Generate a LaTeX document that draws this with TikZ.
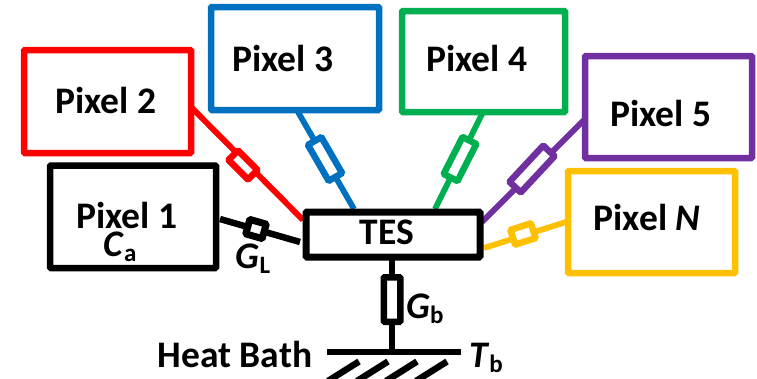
\documentclass[tikz,border=0pt]{standalone}
\usepackage{fontspec}
\setmainfont{Carlito}
\definecolor{cred}{RGB}{255,0,0}
\definecolor{cblue}{RGB}{0,112,192}
\definecolor{cgreen}{RGB}{0,176,80}
\definecolor{cpurple}{RGB}{112,48,160}
\definecolor{cyel}{RGB}{255,192,0}
\tikzset{
  pix/.style={draw,line width=6.5pt,rounded corners=1pt,fill=white,inner sep=0pt},
  res/.style={draw,line width=6.5pt,rounded corners=1pt,fill=white,inner sep=0pt},
  lab/.style={font=\bfseries\fontsize{37.5}{37.5}\selectfont,inner sep=0pt,anchor=center},
  wire/.style={line width=5.8pt},
  hatch/.style={line width=6.5pt}
}
\newcommand{\sbs}[1]{\raisebox{-5pt}{\fontsize{25}{25}\selectfont\upshape #1}}
\begin{document}
\begin{tikzpicture}[x=1pt,y=-1pt]
\useasboundingbox (0,0) rectangle (757,378);
\def\bx#1#2#3#4#5#6{\node[pix,draw=#6,minimum width=#3-#1,minimum height=#4-#2] (#5) at ({(#1+#3)/2},{(#2+#4)/2}) {};}
% end points
\coordinate (a1) at (220,219); \coordinate (b1) at (300,242);
\coordinate (a2) at (192,108); \coordinate (b2) at (303,220);
\coordinate (a3) at (298,112); \coordinate (b3) at (354,209);
\coordinate (a4) at (483,112); \coordinate (b4) at (435,209);
\coordinate (a5) at (586,118); \coordinate (b5) at (482,222);
\coordinate (a6) at (566,222); \coordinate (b6) at (484,248);
\coordinate (a7) at (392,260); \coordinate (b7) at (392,352);
% wires
\draw[wire,line width=6.5pt,black] (a1) -- (b1);
\draw[wire,cred] (a2) -- (b2);
\draw[wire,cblue] (a3) -- (b3);
\draw[wire,cgreen] (a4) -- (b4);
\draw[wire,cpurple] (a5) -- (b5);
\draw[wire,cyel] (a6) -- (b6);
\draw[wire,line width=6.5pt,black] (a7) -- (b7);
% pixels
\bx{50}{165.5}{216}{268}{p1}{black}
\bx{24}{50}{191}{153}{p2}{cred}
\bx{211}{7}{379}{110}{p3}{cblue}
\bx{402}{11}{565}{112}{p4}{cgreen}
\bx{585}{56}{752}{158}{p5}{cpurple}
\bx{568}{171}{735}{273}{pn}{cyel}
\node[pix,line width=7pt,minimum width=174pt,minimum height=45pt] (tes) at (393,234.5) {};
% resistors
\node[res,draw=black,line width=7pt,minimum width=17pt,minimum height=15pt,rotate=-16] (r1) at (256,229) {};
\node[res,draw=cred,minimum width=27.5pt,minimum height=13.5pt,rotate=-45] (r2) at (243,165) {};
\node[res,draw=cblue,minimum width=41.5pt,minimum height=15.5pt,rotate=-60] (r3) at (325,159) {};
\node[res,draw=cgreen,minimum width=41.5pt,minimum height=15.5pt,rotate=63] (r4) at (460,159) {};
\node[res,draw=cpurple,minimum width=49.5pt,minimum height=15.5pt,rotate=47] (r5) at (532,169) {};
\node[res,draw=cyel,minimum width=21.5pt,minimum height=15.5pt,rotate=18] (r6) at (523,234) {};
\node[res,draw=black,minimum width=16.5pt,minimum height=44.5pt] (r7) at (392,299.5) {};
% bath
\coordinate (h1) at (327,352); \coordinate (h2) at (461,352);
\draw[hatch] (h1) -- (h2);
\begin{scope}
\clip (300,340) rectangle (480,378);
\foreach \n/\x in {s1/328,s2/357,s3/386,s4/416}{
  \coordinate (\n a) at (\x,381); \coordinate (\n b) at (\x+31,361.5);
  \draw[hatch] (\n a) -- (\n b);
}
\end{scope}
% labels
\node[lab] (l1) at (127,215) {Pixel 1};
\node[lab] (l2) at (106,100) {Pixel 2};
\node[lab] (l3) at (283,58) {Pixel 3};
\node[lab] (l4) at (477,58) {Pixel 4};
\node[lab] (l5) at (661,113) {Pixel 5};
\node[lab] (ln) at (647,217) {Pixel \textit{N}};
\node[lab] (ttes) at (387,232) {TES};
\node[lab] (ca) at (120,247) {\textit{C}\sbs{a}};
\node[lab] (gl) at (253,259) {\textit{G}\sbs{L}};
\node[lab] (gb) at (425,309) {\textit{G}\sbs{b}};
\node[lab] (tb) at (486,358) {\textit{T}\sbs{b}};
\node[lab] (hb) at (235,354) {Heat Bath};
\end{tikzpicture}
\end{document}
